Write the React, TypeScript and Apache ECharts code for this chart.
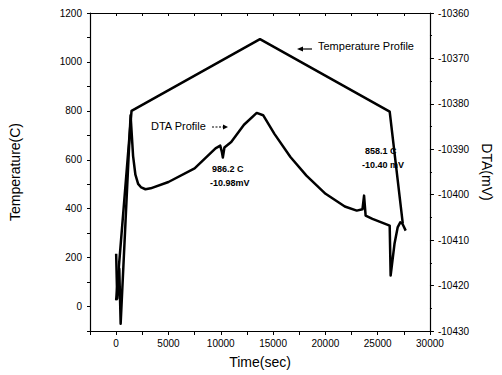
import React, { useEffect, useRef } from "react";
import * as echarts from "echarts";

// Temperature profile (left axis, °C)
const TEMP_TIME = [0, 1470, 13750, 26150, 27400];
const TEMP_VALUES = [25, 800, 1093, 797, 340];

// DTA profile (right axis, mV)
const DTA_TIME = [
  0, 100, 300, 430, 900, 1380, 1620, 1840, 2100, 2400, 2800, 3300, 5000,
  7500, 9500, 9950, 10100, 10200, 10350, 11000, 12220, 13440, 14050, 15130,
  16660, 18190, 20020, 21860, 23000, 23550, 23700, 23850, 24500, 26150,
  26240, 26610, 26910, 27160, 27370, 27680,
];
const DTA_VALUES = [
  -10413.0, -10422.9, -10416.3, -10428.4, -10405.7, -10382.5, -10391.5,
  -10395.6, -10397.6, -10398.4, -10398.8, -10398.6, -10397.2, -10394.2,
  -10389.8, -10389.2, -10390.5, -10391.8, -10389.6, -10388.4, -10384.6,
  -10382.0, -10382.5, -10386.6, -10391.7, -10395.8, -10399.8, -10402.6,
  -10403.5, -10403.2, -10400.2, -10404.6, -10405.3, -10406.8, -10417.8,
  -10410.8, -10407.2, -10406.1, -10406.4, -10407.9,
];

const FONT = "Liberation Sans, Arial, sans-serif";

export default function App() {
  const ref = useRef<HTMLDivElement>(null);

  useEffect(() => {
    if (!ref.current) return;
    const chart = echarts.init(ref.current, undefined, { renderer: "svg" });
    const axisLine = { show: true, onZero: false, lineStyle: { color: "#000", width: 1.2 } };
    const labelStyle = { color: "#000", fontSize: 10, fontFamily: FONT };
    chart.setOption({
      animation: false,
      backgroundColor: "#fff",
      textStyle: { fontFamily: FONT, color: "#000" },
      grid: { left: 90, right: 59, top: 13, bottom: 44, containLabel: false },
      xAxis: [
        {
          type: "value",
          position: "bottom",
          min: -2500,
          max: 30000,
          interval: 2500,
          axisLine,
          axisTick: { show: true, inside: false, length: 4, lineStyle: { color: "#000" } },
          axisLabel: {
            ...labelStyle,
            margin: 7,
            formatter: (v: number) => (v % 5000 === 0 ? String(v) : ""),
          },
          splitLine: { show: false },
          name: "Time(sec)",
          nameLocation: "middle",
          nameGap: 24,
          nameTextStyle: { fontSize: 14, color: "#000", fontFamily: FONT },
        },
        {
          type: "value",
          position: "top",
          min: -2500,
          max: 30000,
          interval: 2500,
          axisLine,
          axisTick: { show: true, inside: true, length: 3, lineStyle: { color: "#000" } },
          axisLabel: { show: false },
          splitLine: { show: false },
        },
      ],
      yAxis: [
        {
          type: "value",
          position: "left",
          min: -100,
          max: 1200,
          interval: 100,
          axisLine,
          axisTick: { show: true, inside: false, length: 3, lineStyle: { color: "#000" } },
          axisLabel: {
            ...labelStyle,
            margin: 8,
            formatter: (v: number) => (v % 200 === 0 ? String(v) : ""),
          },
          splitLine: { show: false },
          name: "Temperature(C)",
          nameLocation: "middle",
          nameRotate: 90,
          nameGap: 68,
          nameTextStyle: { fontSize: 14, color: "#000", fontFamily: FONT },
        },
        {
          type: "value",
          position: "right",
          min: -10430,
          max: -10360,
          interval: 10,
          axisLine,
          axisTick: { show: true, inside: false, length: 4, lineStyle: { color: "#000" } },
          minorTick: { show: true, splitNumber: 2, length: 2, lineStyle: { color: "#000" } },
          axisLabel: { ...labelStyle, margin: 8, formatter: (v: number) => String(v) },
          splitLine: { show: false },
          name: "DTA(mV)",
          nameLocation: "middle",
          nameRotate: -90,
          nameGap: 38,
          nameTextStyle: { fontSize: 14, color: "#000", fontFamily: FONT },
        },
      ],
      series: [
        {
          name: "Temperature Profile",
          type: "line",
          xAxisIndex: 0,
          yAxisIndex: 0,
          data: TEMP_TIME.map((t, i) => [t, TEMP_VALUES[i]]),
          symbol: "none",
          lineStyle: { color: "#000", width: 2.5, join: "round" },
        },
        {
          name: "DTA Profile",
          type: "line",
          xAxisIndex: 0,
          yAxisIndex: 1,
          data: DTA_TIME.map((t, i) => [t, DTA_VALUES[i]]),
          symbol: "none",
          lineStyle: { color: "#000", width: 2.5, join: "round" },
        },
      ],
      graphic: [
        {
          type: "text",
          left: 318,
          top: 40,
          style: { text: "Temperature Profile", fontSize: 11, fontFamily: FONT, fill: "#000" },
        },
        {
          type: "line",
          shape: { x1: 312, y1: 49, x2: 301, y2: 49 },
          style: { stroke: "#000", lineWidth: 1.2 },
        },
        {
          type: "polygon",
          shape: { points: [[297, 49], [303, 46.5], [303, 51.5]] },
          style: { fill: "#000" },
        },
        {
          type: "text",
          left: 151,
          top: 120,
          style: { text: "DTA Profile", fontSize: 11, fontFamily: FONT, fill: "#000" },
        },
        {
          type: "line",
          shape: { x1: 212, y1: 127, x2: 224, y2: 127 },
          style: { stroke: "#000", lineWidth: 1, lineDash: [2, 1.5] },
        },
        {
          type: "polygon",
          shape: { points: [[228, 127], [223, 124.5], [223, 129.5]] },
          style: { fill: "#000" },
        },
        {
          type: "text",
          left: 212,
          top: 164,
          style: { text: "986.2 C", fontSize: 9, fontWeight: "bold", fontFamily: FONT, fill: "#000" },
        },
        {
          type: "text",
          left: 210,
          top: 178,
          style: { text: "-10.98mV", fontSize: 9, fontWeight: "bold", fontFamily: FONT, fill: "#000" },
        },
        {
          type: "text",
          left: 365,
          top: 146,
          style: { text: "858.1 C", fontSize: 9, fontWeight: "bold", fontFamily: FONT, fill: "#000" },
        },
        {
          type: "text",
          left: 362,
          top: 160,
          style: { text: "-10.40 mV", fontSize: 9, fontWeight: "bold", fontFamily: FONT, fill: "#000" },
        },
      ],
    });
    return () => chart.dispose();
  }, []);

  return (
    <div
      ref={ref}
      style={{ position: "absolute", left: 0, top: 0, width: 502, height: 375, background: "#fff" }}
    />
  );
}
